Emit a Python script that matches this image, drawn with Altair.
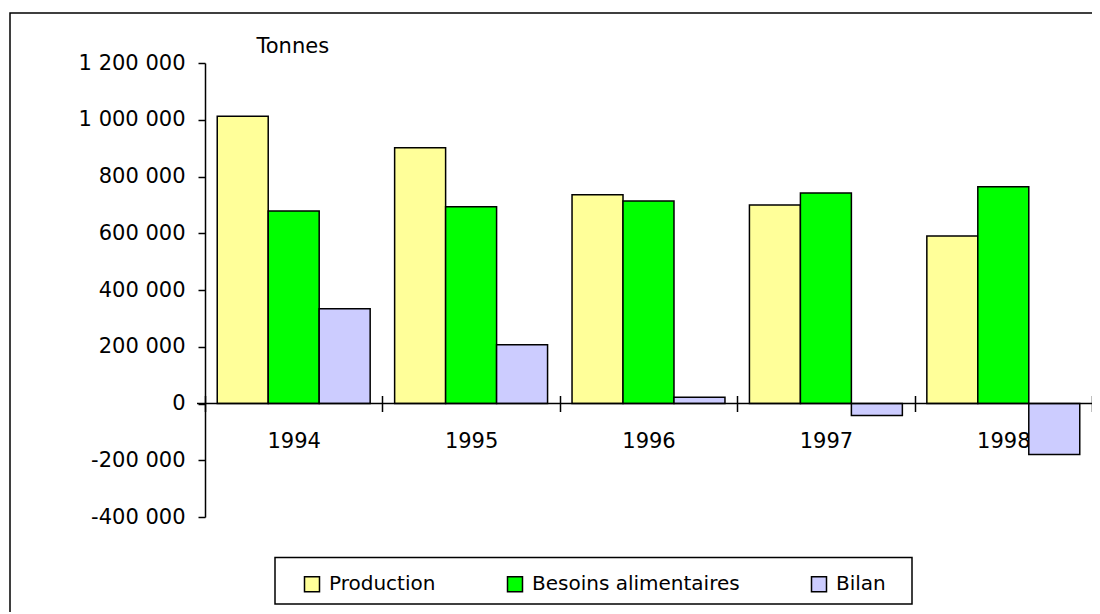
import altair as alt
import pandas as pd

years = ["1994", "1995", "1996", "1997", "1998"]
production = [1012000, 901000, 736000, 700000, 590000]
besoins = [678000, 693000, 714000, 742000, 764000]
bilan = [334000, 207000, 22000, -42000, -180000]
series = ["Production", "Besoins alimentaires", "Bilan"]
colors = ["#FFFF99", "#00FF00", "#CCCCFF"]
y_ticks = [-400000, -200000, 0, 200000, 400000, 600000, 800000, 1000000, 1200000]

rows = []
for i, yr in enumerate(years):
    for s, vals in zip(series, [production, besoins, bilan]):
        rows.append({"annee": yr, "serie": s, "valeur": vals[i]})
df = pd.DataFrame(rows)

W, H = 887, 454
FONT = "DejaVu Sans"
zero_y = H * 1200000 / 1600000

label_expr = "replace(replace(format(datum.value, ','), /,/g, ' '), '\u2212', '-')"

one = pd.DataFrame({"valeur": [0]})

frame = alt.Chart(one).mark_rect(fillOpacity=0, stroke="black", strokeWidth=1.5).encode(
    x=alt.value(-195), x2=alt.value(W + 100), y=alt.value(-50), y2=alt.value(H + 200)
)

y_axis = alt.Axis(
    values=y_ticks, title="Tonnes", titleAngle=0, titleAlign="left",
    titleBaseline="alphabetic", titleX=51, titleY=-11, titleFontSize=21,
    titleFontWeight="normal", labelExpr=label_expr, labelFontSize=21,
    labelPadding=13, tickSize=7, tickWidth=1.5, tickColor="black",
    domainWidth=1.5, domainColor="black", grid=False,
)
y_scale = alt.Scale(domain=[-400000, 1200000], nice=False, zero=True)

bars = alt.Chart(df).mark_bar(stroke="black", strokeWidth=1.5, opacity=1).encode(
    x=alt.X(
        "annee:N", sort=years,
        scale=alt.Scale(paddingInner=0, paddingOuter=0),
        axis=alt.Axis(
            title=None, labelAngle=0, domain=False, tickBand="extent",
            tickSize=16, tickWidth=1.5, tickColor="black",
            offset=-(H - zero_y + 8), labelPadding=19, labelFontSize=21,
        ),
    ),
    xOffset=alt.XOffset("serie:N", sort=series,
                        scale=alt.Scale(paddingInner=0, paddingOuter=0.24)),
    y=alt.Y("valeur:Q", scale=y_scale, axis=y_axis),
    color=alt.Color(
        "serie:N", sort=series,
        scale=alt.Scale(domain=series, range=colors),
        legend=alt.Legend(
            title=None, orient="none", legendX=97, legendY=511, direction="horizontal",
            symbolType="square", symbolSize=225, symbolStrokeColor="black",
            symbolStrokeWidth=1.5, symbolOpacity=1, labelFontSize=20, labelOffset=7,
            columnPadding=68, padding=0, labelColor="black", labelLimit=500,
        ),
    ),
)

zero_rule = alt.Chart(one).mark_rule(color="black", strokeWidth=1.5).encode(
    y=alt.Y("valeur:Q", scale=y_scale, axis=y_axis), x=alt.value(-8), x2=alt.value(W)
)

legend_box = alt.Chart(one).mark_rect(fillOpacity=0, stroke="black", strokeWidth=1.5).encode(
    x=alt.value(70), x2=alt.value(707), y=alt.value(494.5), y2=alt.value(541)
)

chart = alt.layer(frame, bars, zero_rule, legend_box).properties(
    width=W, height=H,
    padding={"left": 197, "top": 55, "right": 0, "bottom": 95},
    autosize=alt.AutoSizeParams(type="none"),
    background="white",
).configure_view(stroke=None).configure_axis(
    labelFont=FONT, titleFont=FONT, labelColor="black", titleColor="black"
).configure_legend(labelFont=FONT)

chart.save("out.html", embed_options={"renderer": "svg", "actions": False})
